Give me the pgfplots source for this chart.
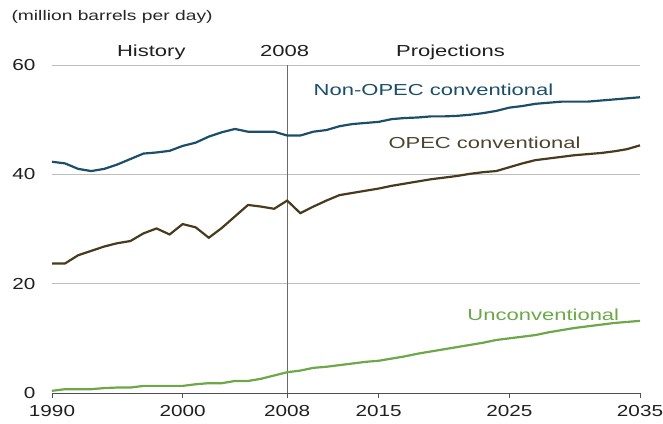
\documentclass[border=0pt]{standalone}
\usepackage{fontspec}
\setmainfont{Liberation Sans}[FakeStretch=1.38]
\newfontfamily\tickfont{Liberation Sans}[FakeStretch=1.3]
\usepackage{pgfplots}
\pgfplotsset{compat=1.18}
\definecolor{nonopec}{RGB}{26,78,105}
\definecolor{opec}{RGB}{72,58,28}
\definecolor{opectxt}{RGB}{75,68,48}
\definecolor{unconv}{RGB}{108,168,72}
\definecolor{axisgray}{RGB}{80,80,80}
\definecolor{gridgray}{RGB}{190,190,190}
\begin{document}
\begin{tikzpicture}[x=1bp,y=1bp]
\path[use as bounding box] (0,0) rectangle (663,423);
\node[anchor=west, font=\fontsize{14}{16}\selectfont, text=black!85] at (8,406) {(million barrels per day)};
\begin{axis}[
  at={(52bp,30bp)}, anchor=south west,
  scale only axis, width=588bp, height=328bp,
  xmin=1990, xmax=2035, ymin=0, ymax=60,
  axis x line*=bottom, axis y line*=left,
  separate axis lines,
  x axis line style={-, draw=axisgray, line width=0.8pt},
  y axis line style={draw=none},
  xtick={1990,2000,2008,2015,2025,2035},
  ytick={0,20,40,60},
  xtick align=outside,
  ytick align=inside,
  major tick length=5bp,
  xtick style={draw=axisgray, line width=0.8pt},
  ytick style={draw=gridgray, line width=0.9pt},
  ymajorgrids,
  grid style={draw=gridgray, line width=0.9pt},
  /pgf/number format/assume math mode=true,
  /pgf/number format/1000 sep={},
  tick label style={font=\tickfont\fontsize{16}{19}\selectfont, text=black!88},
  yticklabel style={anchor=east, xshift=-13bp},
  xticklabel style={yshift=-4bp},
  clip=false,
]
\addplot[axisgray!85, line width=0.9pt] coordinates {(2008,0) (2008,60)};
\addplot[nonopec, line width=2.2pt] coordinates {
(1990,42.3)(1991,42.0)(1992,41.0)(1993,40.6)(1994,41.0)(1995,41.8)(1996,42.8)(1997,43.8)
(1998,44.0)(1999,44.3)(2000,45.2)(2001,45.8)(2002,46.9)(2003,47.7)(2004,48.3)(2005,47.8)
(2006,47.8)(2007,47.8)(2008,47.1)(2009,47.1)(2010,47.8)(2011,48.1)(2012,48.8)(2013,49.2)
(2014,49.4)(2015,49.6)(2016,50.1)(2017,50.3)(2018,50.4)(2019,50.6)(2020,50.6)(2021,50.7)
(2022,50.9)(2023,51.2)(2024,51.6)(2025,52.2)(2026,52.5)(2027,52.9)(2028,53.1)(2029,53.3)
(2030,53.3)(2031,53.3)(2032,53.5)(2033,53.7)(2034,53.9)(2035,54.1)};
\addplot[opec, line width=2.2pt] coordinates {
(1990,23.7)(1991,23.7)(1992,25.2)(1993,26.0)(1994,26.8)(1995,27.4)(1996,27.8)(1997,29.2)
(1998,30.1)(1999,29.0)(2000,30.9)(2001,30.3)(2002,28.4)(2003,30.2)(2004,32.3)(2005,34.4)
(2006,34.1)(2007,33.7)(2008,35.2)(2009,32.9)(2010,34.1)(2011,35.2)(2012,36.2)(2013,36.6)
(2014,37.0)(2015,37.4)(2016,37.9)(2017,38.3)(2018,38.7)(2019,39.1)(2020,39.4)(2021,39.7)
(2022,40.1)(2023,40.4)(2024,40.6)(2025,41.3)(2026,42.0)(2027,42.6)(2028,42.9)(2029,43.2)
(2030,43.5)(2031,43.7)(2032,43.9)(2033,44.2)(2034,44.6)(2035,45.3)};
\addplot[unconv, line width=2.2pt] coordinates {
(1990,0.4)(1991,0.7)(1992,0.7)(1993,0.7)(1994,0.9)(1995,1.0)(1996,1.0)(1997,1.3)
(1998,1.3)(1999,1.3)(2000,1.3)(2001,1.6)(2002,1.8)(2003,1.8)(2004,2.2)(2005,2.2)
(2006,2.6)(2007,3.2)(2008,3.8)(2009,4.1)(2010,4.6)(2011,4.8)(2012,5.1)(2013,5.4)
(2014,5.7)(2015,5.9)(2016,6.3)(2017,6.7)(2018,7.2)(2019,7.6)(2020,8.0)(2021,8.4)
(2022,8.8)(2023,9.2)(2024,9.7)(2025,10.0)(2026,10.3)(2027,10.6)(2028,11.1)(2029,11.5)
(2030,11.9)(2031,12.2)(2032,12.5)(2033,12.8)(2034,13.0)(2035,13.2)};
\node[anchor=base, font=\fontsize{16}{19}\selectfont, text=black!88] at (axis cs:1997.6,61.6) {History};
\node[anchor=base, font=\fontsize{16}{19}\selectfont, text=black!88] at (axis cs:2007.8,61.6) {2008};
\node[anchor=base, font=\fontsize{16}{19}\selectfont, text=black!88] at (axis cs:2020.5,61.6) {Projections};
\node[anchor=base, font=\fontsize{16}{19}\selectfont, text=nonopec] at (axis cs:2019.2,54.5) {Non-OPEC conventional};
\node[anchor=base, font=\fontsize{16}{19}\selectfont, text=opectxt] at (axis cs:2023.1,44.8) {OPEC conventional};
\node[anchor=base, font=\fontsize{16}{19}\selectfont, text=unconv] at (axis cs:2027.6,13.2) {Unconventional};
\end{axis}
\end{tikzpicture}
\end{document}
